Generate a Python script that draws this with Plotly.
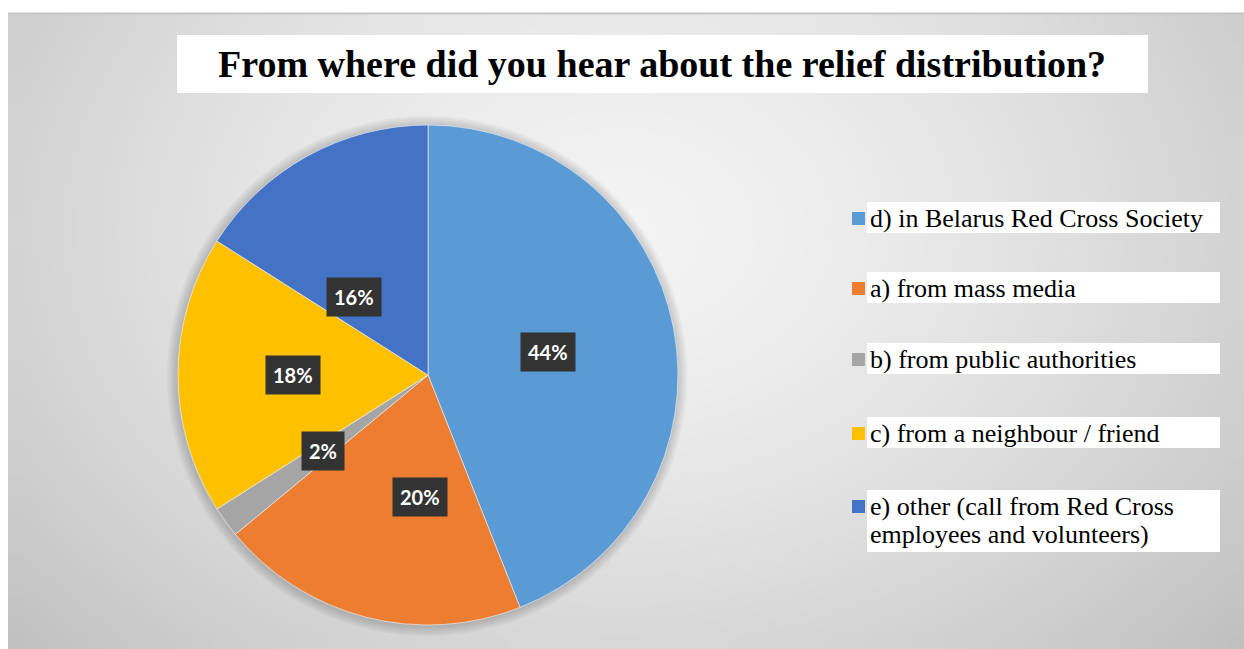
import numpy as np
import plotly.graph_objects as go

# ---- data ----
categories = [
    "d) in Belarus Red Cross Society",
    "a) from mass media",
    "b) from public authorities",
    "c) from a neighbour / friend",
    "e) other (call from Red Cross<br>employees and volunteers)",
]
shares = [44, 20, 2, 18, 16]
slice_colors = ["#5B9BD5", "#ED7D31", "#A5A5A5", "#FFC000", "#4472C4"]
title_text = "From where did you hear about the relief distribution?"

# ---- layout constants (pixels) ----
W, H = 1244, 649
CX, CY, R = 428, 375, 250            # pie centre and radius
label_radius = [0.49, 0.49, 0.52, 0.54, 0.43]   # label distance as fraction of R
label_along = [0.50, 0.35, 0.50, 0.50, 0.25]    # position across each slice (0=start, 1=end)

def pie_domain(cx, cy, r):
    return dict(x=[(cx - r) / W, (cx + r) / W],
                y=[(H - cy - r) / H, (H - cy + r) / H])

fig = go.Figure()

# background: soft radial grey gradient on a hidden pixel-unit axis
gx = np.linspace(8, W, 41)
gy = np.linspace(13, H, 26)
mx = (gx[:-1] + gx[1:]) / 2
my = (gy[:-1] + gy[1:]) / 2
XX, YY = np.meshgrid(mx, my)
dist = np.sqrt(((XX - 620) / 700) ** 2 + ((YY - 230) / 520) ** 2)
shade = 243 - 40 * dist ** 1.5
fig.add_trace(go.Heatmap(
    x=gx, y=gy, z=shade, zmin=0, zmax=255,
    colorscale=[[0, "rgb(0,0,0)"], [1, "rgb(255,255,255)"]],
    zsmooth="best", showscale=False, hoverinfo="skip",
))

# soft shadow under the pie
for k in range(1, 6):
    fig.add_trace(go.Pie(
        values=[1], labels=["shadow"], sort=False,
        marker=dict(colors=["rgba(0,0,0,0.035)"], line=dict(width=0)),
        domain=pie_domain(CX - 1, CY + 1, R + 2 * k),
        textinfo="none", hoverinfo="skip", showlegend=False,
    ))

# the pie itself
fig.add_trace(go.Pie(
    labels=categories, values=shares, sort=False, direction="clockwise",
    rotation=0,
    marker=dict(colors=slice_colors, line=dict(width=0.8, color="rgba(235,242,250,0.8)")),
    domain=pie_domain(CX, CY, R),
    textinfo="none", hoverinfo="label+percent", showlegend=False,
))

shapes = []
annotations = []

# top border of the grey panel
shapes.append(dict(type="line", xref="x", yref="y", x0=8, x1=W, y0=13.5, y1=13.5,
                   line=dict(color="#c4c4c4", width=2)))

# title box
shapes.append(dict(type="rect", xref="x", yref="y", x0=177, x1=1148, y0=35, y1=93,
                   fillcolor="white", line=dict(width=0), layer="above"))
annotations.append(dict(xref="x", yref="y", x=662, y=64, text="<b>" + title_text + "</b>",
                        showarrow=False, xanchor="center", yanchor="middle",
                        font=dict(family="Liberation Serif", size=38, color="black")))

# percentage labels in dark boxes, placed inside each slice
total = sum(shares)
cum = 0
for v, f, a in zip(shares, label_radius, label_along):
    ang = (cum + v * a) / total * 2 * np.pi
    cum += v
    lx = CX + R * f * np.sin(ang)
    ly = CY - R * f * np.cos(ang)
    annotations.append(dict(xref="x", yref="y", x=lx, y=ly,
                            text=f"{round(v / total * 100)}%", showarrow=False,
                            xanchor="center", yanchor="middle",
                            font=dict(family="Lato", size=20, color="white", weight=700),
                            bgcolor="#333333", borderpad=7))

# legend: colour squares and text on white strips
box_tops = [202, 272, 343, 417, 490]
line_h = 28
for name, col, top in zip(categories, slice_colors, box_tops):
    lines = name.split("<br>")
    h = 31 + 31 * (len(lines) - 1)
    shapes.append(dict(type="rect", xref="x", yref="y", x0=867, x1=1220, y0=top, y1=top + h,
                       fillcolor="white", line=dict(width=0), layer="above"))
    shapes.append(dict(type="rect", xref="x", yref="y", x0=852, x1=865,
                       y0=top + 10, y1=top + 23,
                       fillcolor=col, line=dict(width=0), layer="above"))
    for i, ln in enumerate(lines):
        annotations.append(dict(xref="x", yref="y", x=868, y=top + 16 + i * line_h,
                                text=ln, showarrow=False, xanchor="left", yanchor="middle",
                                font=dict(family="Liberation Serif", size=26, color="black")))

fig.update_layout(
    width=W, height=H,
    margin=dict(l=0, r=0, t=0, b=0),
    paper_bgcolor="white", plot_bgcolor="white",
    xaxis=dict(range=[0, W], visible=False, fixedrange=True, domain=[0, 1]),
    yaxis=dict(range=[H, 0], visible=False, fixedrange=True, domain=[0, 1]),
    shapes=shapes, annotations=annotations,
    showlegend=False,
)

fig.write_html("out.html")
